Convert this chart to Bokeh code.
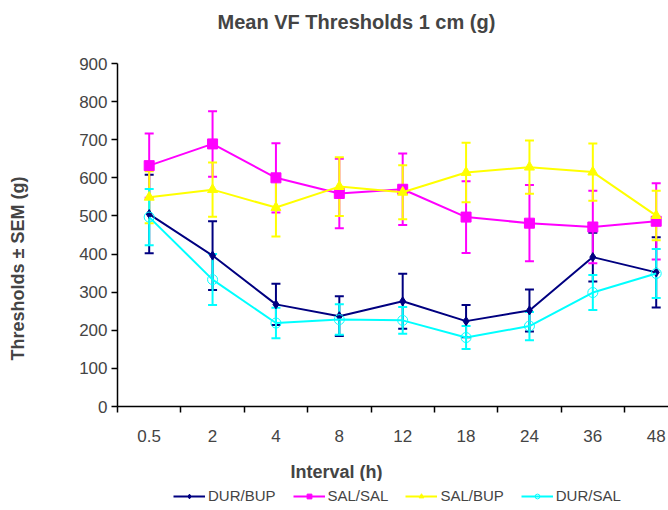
from bokeh.plotting import figure
from bokeh.layouts import column
from bokeh.models import (Range1d, FixedTicker, Whisker, TeeHead, ColumnDataSource,
                          Legend, LegendItem, Title)
from bokeh.embed import file_html
from bokeh.resources import INLINE

intervals = ["0.5", "2", "4", "8", "12", "18", "24", "36", "48"]
durbup = [505, 396, 268, 237, 276, 224, 252, 392, 352]
durbup_err = [103, 90, 54, 52, 72, 42, 55, 64, 92]
salsal = [632, 689, 600, 559, 570, 497, 481, 471, 486]
salsal_err = [84, 86, 91, 91, 94, 94, 100, 95, 100]
salbup = [549, 569, 522, 577, 562, 614, 628, 615, 501]
salbup_err = [68, 71, 76, 77, 71, 78, 70, 75, 65]
dursal = [497, 333, 219, 228, 226, 181, 211, 299, 349]
dursal_err = [74, 67, 40, 40, 35, 30, 37, 46, 64]
y_ticks = [0, 100, 200, 300, 400, 500, 600, 700, 800, 900]

FONT = "Liberation Sans"
xs = [i + 0.5 for i in range(len(intervals))]

p = figure(frame_width=551, frame_height=343, output_backend="svg", toolbar_location=None,
           x_range=Range1d(0, 8.694), y_range=Range1d(0, 900),
           min_border_left=117, min_border_top=63, min_border_right=0, min_border_bottom=0)
p.outline_line_color = None
p.xgrid.grid_line_color = None
p.ygrid.grid_line_color = None


def spacer(px):
    return Title(text=" ", text_font_size="1px", standoff=px)


p.title.text = "Mean VF Thresholds 1 cm (g)"
p.title.text_font = FONT
p.title.text_font_size = "20px"
p.title.text_font_style = "bold"
p.title.align = "left"
p.title.offset = 100
p.title.standoff = 0
p.add_layout(spacer(28), "above")

# axes
p.yaxis.ticker = FixedTicker(ticks=y_ticks)
p.yaxis.major_label_text_font = FONT
p.yaxis.major_label_text_font_size = "17px"
p.yaxis.major_tick_out = 6
p.yaxis.major_tick_in = 0
p.yaxis.minor_tick_line_color = None
p.yaxis.axis_line_width = 1.5
p.yaxis.major_tick_line_width = 1.5
p.yaxis.major_label_standoff = 4

p.add_layout(spacer(46), "left")
p.add_layout(Title(text="Thresholds \u00b1 SEM  (g)", text_font=FONT, text_font_size="18px",
                   text_font_style="bold", align="left", offset=46, standoff=0), "left")

p.xaxis.ticker = FixedTicker(ticks=xs, minor_ticks=list(range(len(intervals))))
p.xaxis.major_label_overrides = {x: lab for x, lab in zip(xs, intervals)}
p.xaxis.major_label_text_font = FONT
p.xaxis.major_label_text_font_size = "17px"
p.xaxis.major_tick_out = 0
p.xaxis.major_tick_in = 0
p.xaxis.minor_tick_out = 6
p.xaxis.minor_tick_in = 0
p.xaxis.minor_tick_line_width = 1.5
p.xaxis.axis_line_width = 1.5
p.xaxis.major_label_standoff = 17

p.add_layout(spacer(12), "below")
p.add_layout(Title(text="Interval (h)", text_font=FONT, text_font_size="18px",
                   text_font_style="bold", align="left", offset=173, standoff=0), "below")

series = [
    ("DUR/BUP", durbup, durbup_err, "#000080", "diamond", 9, "#000080"),
    ("SAL/SAL", salsal, salsal_err, "#FF00FF", "square", 10, "#FF00FF"),
    ("SAL/BUP", salbup, salbup_err, "#FFFF00", "triangle", 10, "#FFFF00"),
    ("DUR/SAL", dursal, dursal_err, "#00FFFF", "circle", 10, None),
]

# separate strip for the legend, below the chart (its frame aligns with the chart's frame)
lf = figure(width=668, height=27, output_backend="svg", toolbar_location=None,
            x_range=Range1d(0, 1), y_range=Range1d(0, 1),
            x_axis_type=None, y_axis_type=None,
            min_border_left=0, min_border_right=0, min_border_top=0, min_border_bottom=0)
lf.outline_line_color = None
lf.xgrid.grid_line_color = None
lf.ygrid.grid_line_color = None

items = []
for name, vals, errs, color, marker, size, fill in series:
    src = ColumnDataSource(dict(x=xs, y=vals,
                                upper=[v + e for v, e in zip(vals, errs)],
                                lower=[v - e for v, e in zip(vals, errs)]))
    w = Whisker(source=src, base="x", upper="upper", lower="lower",
                line_color=color, line_width=2,
                upper_head=TeeHead(size=9, line_color=color, line_width=2),
                lower_head=TeeHead(size=9, line_color=color, line_width=2))
    p.add_layout(w)
    p.line("x", "y", source=src, line_color=color, line_width=2)
    p.scatter("x", "y", source=src, marker=marker, size=size,
              line_color=color, fill_color=fill if fill else "white",
              fill_alpha=1 if fill else 0, line_width=1)
    # legend proxies: one point placed outside the strip's visible range
    lr = lf.line(x=[-5, -4], y=[-5, -5], line_color=color, line_width=2)
    mr = lf.scatter(x=[-5], y=[-5], marker=marker, size=size, line_color=color,
                    fill_color=fill if fill else "white", fill_alpha=1 if fill else 0,
                    line_width=1)
    items.append(LegendItem(label=name, renderers=[lr, mr]))

legend = Legend(items=items, orientation="horizontal", location=(56, 4),
                label_text_font=FONT, label_text_font_size="15px",
                glyph_width=32, glyph_height=12, spacing=17, padding=0, margin=0,
                label_standoff=3, label_height=16, border_line_alpha=0,
                background_fill_alpha=0)
lf.add_layout(legend, "center")

layout = column(p, lf, spacing=0)
open("out.html", "w").write(file_html(layout, INLINE))
